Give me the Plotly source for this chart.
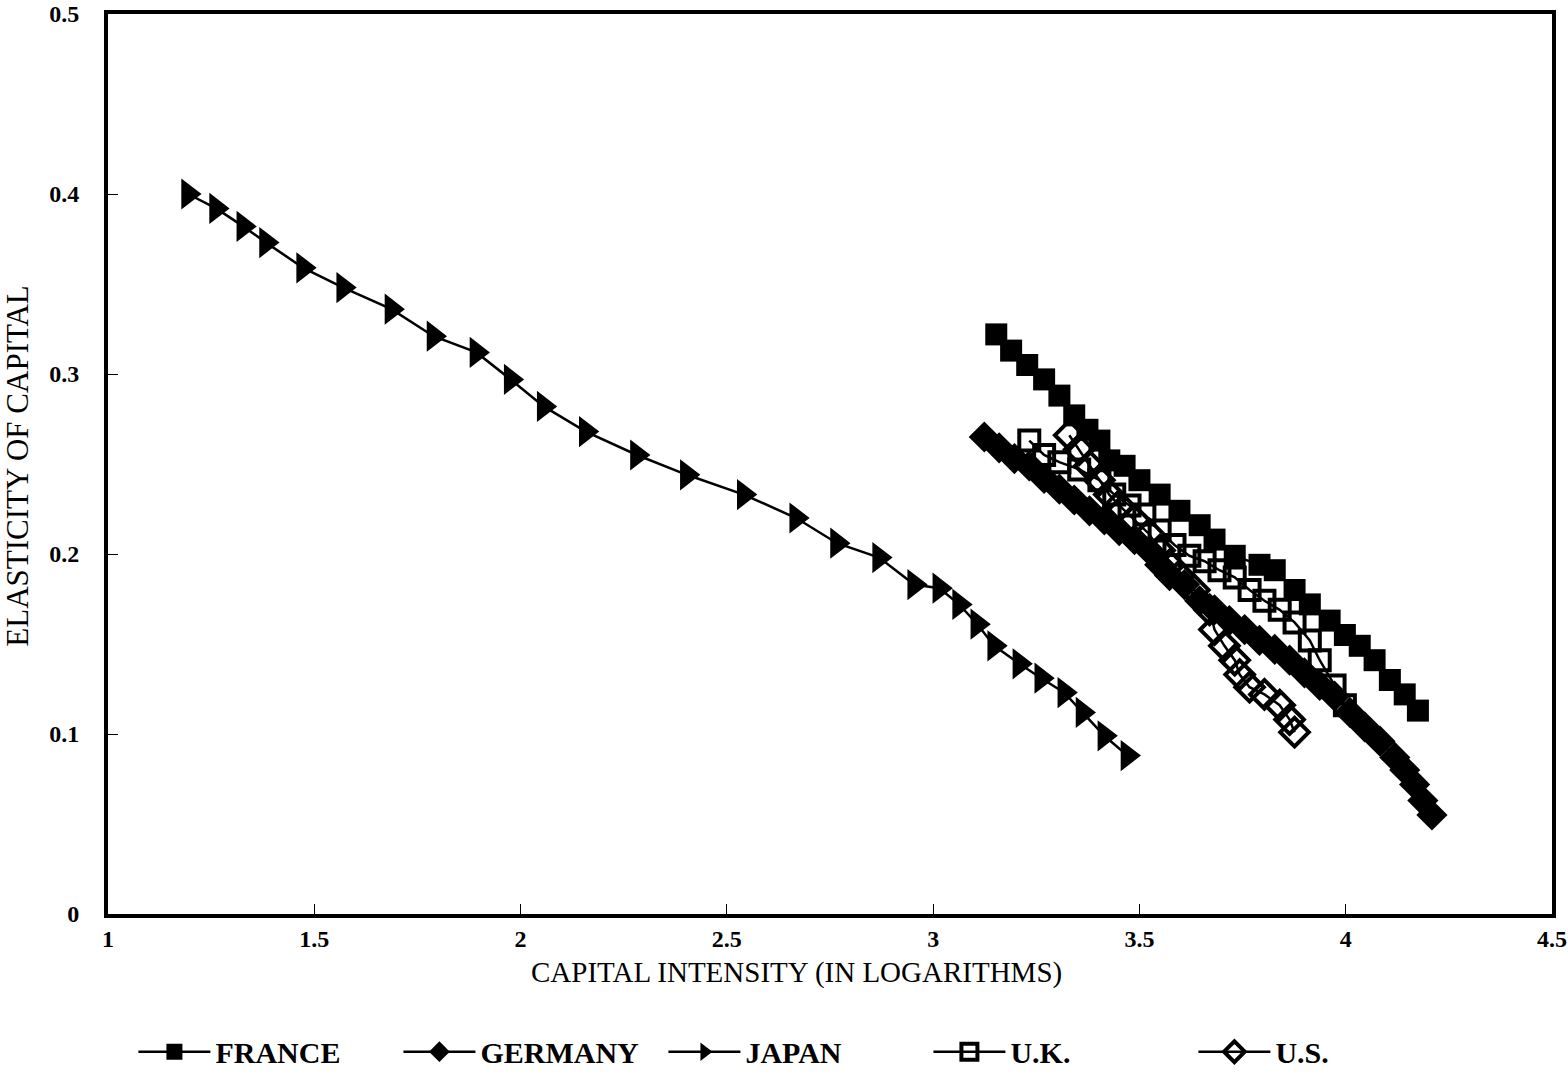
import plotly.graph_objects as go

# ---- data ----
japan_x = [1.194, 1.262, 1.328, 1.383, 1.473, 1.570, 1.687, 1.789, 1.893, 1.976,
           2.056, 2.158, 2.282, 2.403, 2.541, 2.668, 2.767, 2.869, 2.954, 3.015,
           3.063, 3.107, 3.148, 3.209, 3.262, 3.318, 3.362, 3.415, 3.471]
japan_y = [0.400, 0.392, 0.382, 0.373, 0.359, 0.348, 0.336, 0.321, 0.312, 0.297,
           0.282, 0.268, 0.255, 0.244, 0.233, 0.220, 0.206, 0.198, 0.183, 0.181,
           0.172, 0.161, 0.149, 0.139, 0.131, 0.123, 0.112, 0.099, 0.088]

france_x = [3.153, 3.189, 3.228, 3.269, 3.306, 3.342, 3.374, 3.403, 3.427, 3.464,
            3.500, 3.549, 3.597, 3.646, 3.682, 3.731, 3.791, 3.828, 3.876, 3.913,
            3.961, 3.998, 4.034, 4.070, 4.107, 4.143, 4.175]
france_y = [0.322, 0.313, 0.305, 0.297, 0.288, 0.277, 0.269, 0.263, 0.252, 0.249,
            0.241, 0.233, 0.224, 0.216, 0.208, 0.199, 0.194, 0.191, 0.180, 0.172,
            0.163, 0.155, 0.149, 0.141, 0.130, 0.122, 0.113]

germany_x = [3.124, 3.160, 3.197, 3.233, 3.269, 3.306, 3.342, 3.379, 3.415, 3.451,
             3.488, 3.524, 3.549, 3.573, 3.609, 3.646, 3.682, 3.718, 3.755, 3.791,
             3.828, 3.864, 3.900, 3.937, 3.973, 4.010, 4.046, 4.083, 4.119, 4.143,
             4.167, 4.187, 4.209]
germany_y = [0.265, 0.259, 0.253, 0.249, 0.242, 0.236, 0.230, 0.224, 0.219, 0.213,
             0.208, 0.202, 0.194, 0.188, 0.183, 0.174, 0.169, 0.163, 0.158, 0.152,
             0.147, 0.141, 0.134, 0.127, 0.121, 0.112, 0.104, 0.096, 0.087, 0.080,
             0.072, 0.063, 0.055]

uk_x = [3.233, 3.269, 3.306, 3.354, 3.403, 3.439, 3.476, 3.512, 3.549, 3.585,
        3.621, 3.658, 3.694, 3.731, 3.767, 3.803, 3.840, 3.876, 3.913, 3.937,
        3.973, 3.998]
uk_y = [0.263, 0.255, 0.251, 0.247, 0.241, 0.233, 0.227, 0.222, 0.213, 0.205,
        0.199, 0.196, 0.191, 0.187, 0.180, 0.174, 0.169, 0.162, 0.152, 0.141,
        0.127, 0.116]

us_x = [3.330, 3.354, 3.379, 3.403, 3.427, 3.451, 3.488, 3.524, 3.549, 3.573,
        3.597, 3.633, 3.670, 3.682, 3.706, 3.731, 3.743, 3.767, 3.803, 3.840,
        3.864, 3.876]
us_y = [0.266, 0.258, 0.249, 0.241, 0.233, 0.227, 0.219, 0.211, 0.202, 0.194,
        0.188, 0.180, 0.169, 0.158, 0.149, 0.141, 0.133, 0.126, 0.122, 0.116,
        0.108, 0.101]

x_ticks = [1, 1.5, 2, 2.5, 3, 3.5, 4, 4.5]
x_tick_labels = ["1", "1.5", "2", "2.5", "3", "3.5", "4", "4.5"]
y_ticks = [0, 0.1, 0.2, 0.3, 0.4, 0.5]
y_tick_labels = ["0", "0.1", "0.2", "0.3", "0.4", "0.5"]

x_title = "CAPITAL INTENSITY (IN LOGARITHMS)"
y_title = "ELASTICITY OF CAPITAL"

FONT = "Liberation Serif"
BLACK = "#000000"

series = [
    ("FRANCE", france_x, france_y, "square", 22, 0),
    ("GERMANY", germany_x, germany_y, "diamond", 24, 0),
    ("JAPAN", japan_x, japan_y, "triangle-right", 27, 0),
    ("U.K.", uk_x, uk_y, "square-open", 20, 4),
    ("U.S.", us_x, us_y, "diamond-open", 22, 4),
]

fig = go.Figure()
for name, xs, ys, sym, size, lw in series:
    fig.add_trace(go.Scatter(
        x=xs, y=ys, name="<b>" + name + "</b>", mode="lines+markers",
        line=dict(color=BLACK, width=2.5),
        marker=dict(symbol=sym, size=size, color=BLACK,
                    line=dict(color=BLACK, width=lw)),
    ))

axis_common = dict(
    showgrid=False, zeroline=False, automargin=False,
    showline=True, linecolor=BLACK, linewidth=4, mirror=True,
    ticks="inside", ticklen=10, tickwidth=1, tickcolor=BLACK,
    tickfont=dict(family=FONT, size=24, color=BLACK),
    ticklabeloverflow="allow",
)

fig.update_layout(
    width=1568, height=1074,
    paper_bgcolor="white", plot_bgcolor="white",
    margin=dict(l=108, r=16, t=14, b=160, autoexpand=False),
    font=dict(family=FONT, color=BLACK),
    xaxis=dict(range=[1, 4.5], tickvals=x_ticks,
               ticktext=["<b>" + t + "</b>" for t in x_tick_labels],
               ticklabelstandoff=0,
               **axis_common),
    yaxis=dict(range=[0, 0.5], tickvals=y_ticks,
               ticktext=["<b>" + t + "</b>" for t in y_tick_labels],
               ticklabelstandoff=20,
               **axis_common),
    annotations=[
        dict(text=x_title, xref="paper", yref="paper", x=0.477, y=-0.0655,
             xanchor="center", yanchor="middle", showarrow=False,
             font=dict(family=FONT, size=29, color=BLACK)),
        dict(text=y_title, xref="paper", yref="paper", x=-0.0623, y=0.497,
             xanchor="center", yanchor="middle", showarrow=False, textangle=-90,
             font=dict(family=FONT, size=31, color=BLACK)),
    ],
    legend=dict(orientation="h", x=0.0176, xanchor="left", y=-0.153, yanchor="middle",
                font=dict(family=FONT, size=30, color=BLACK),
                itemwidth=72, entrywidth=178, entrywidthmode="pixels",
                bgcolor="rgba(0,0,0,0)"),
    showlegend=True,
)

fig.write_html("out.html", config={"displayModeBar": False},
               post_script="document.body.style.margin='0';document.body.style.overflow='hidden';")
